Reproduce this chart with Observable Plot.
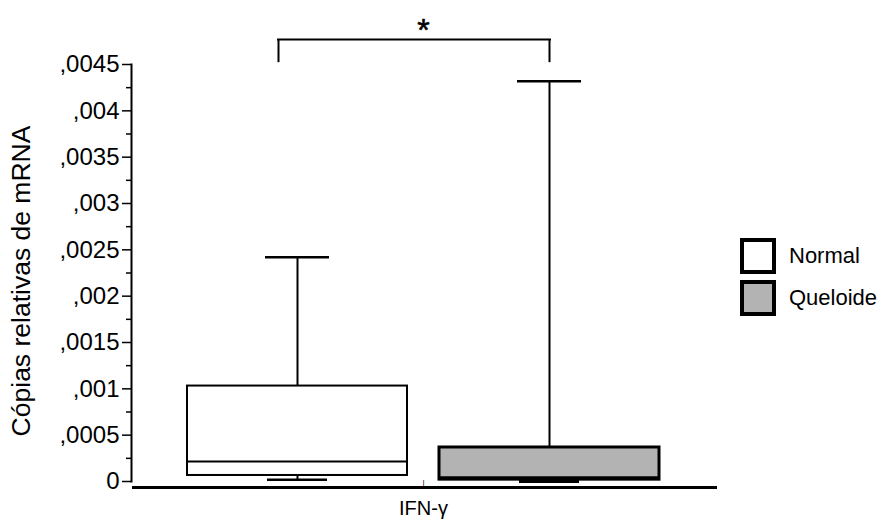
<!DOCTYPE html>
<html>
<head>
<meta charset="utf-8">
<script src="https://cdn.jsdelivr.net/npm/d3@7"></script>
<script src="https://cdn.jsdelivr.net/npm/@observablehq/plot@0.6"></script>
<style>
  html, body { margin: 0; padding: 0; background: #fff; }
  #wrap { position: relative; width: 887px; height: 524px; font-family: "Liberation Sans", Arial, sans-serif; color: #000; }
  #legend { position: absolute; left: 740px; top: 235px; }
  .item { display: flex; align-items: center; height: 42px; }
  .sw { width: 28px; height: 28px; border: 4px solid #000; margin-right: 13px; }
  .lbl { font-size: 22px; }
</style>
</head>
<body>
<div id="wrap"></div>
<script>
// ---- data ----
const groups = ["Normal", "Queloide"];
const q1 = [0.000065, 0.00002];
const median = [0.000215, 0.00004];
const q3 = [0.00103, 0.000367];
const whiskerLow = [0.00002, 0.000004];
const whiskerHigh = [0.00242, 0.00432];
const fills = ["#ffffff", "#b3b3b3"];
const boxStroke = [2, 3];
const yTicks = [0, 0.0005, 0.001, 0.0015, 0.002, 0.0025, 0.003, 0.0035, 0.004, 0.0045];
const yTickLabels = ["0", ",0005", ",001", ",0015", ",002", ",0025", ",003", ",0035", ",004", ",0045"];
const yMinorTicks = [0.00025, 0.00075, 0.00125, 0.00175, 0.00225, 0.00275, 0.00325, 0.00375, 0.00425];
const gene = "IFN-γ";
const yLabel = "Cópias relativas de mRNA";
const significance = "*";
const bracketBottom = 0.00452;
const bracketTop = 0.00477;

const rows = groups.map((g, i) => ({
  group: g, q1: q1[i], median: median[i], q3: q3[i],
  lo: whiskerLow[i], hi: whiskerHigh[i], fill: fills[i], sw: boxStroke[i]
}));
const labelOf = new Map(yTicks.map((t, i) => [t, yTickLabels[i]]));
const font = "Liberation Sans, Arial, sans-serif";

const chart = Plot.plot({
  width: 887,
  height: 524,
  marginLeft: 131,
  marginRight: 172,
  marginTop: 64,
  marginBottom: 43,
  style: { fontFamily: font, color: "#000", background: "#fff", overflow: "visible" },
  x: { domain: groups, paddingInner: 0.127, paddingOuter: 0.22, axis: null },
  y: { domain: [0, 0.0045], axis: null },
  marks: [
    // y axis line
    Plot.frame({ anchor: "left", stroke: "#000", strokeWidth: 2 }),
    // x axis line
    Plot.frame({ anchor: "bottom", stroke: "#000", strokeWidth: 3, dy: 6, insetLeft: 2 }),
    // small category tick on the x axis
    Plot.text([gene], { frameAnchor: "bottom", dy: 3, text: () => "|", fontSize: 8, fill: "#000" }),
    Plot.axisY({ ticks: yTicks, tickFormat: d => labelOf.get(d), tickSize: 9, tickPadding: 3,
      fontSize: 24, strokeWidth: 1.5, label: null }),
    Plot.axisY({ ticks: yMinorTicks, tickFormat: () => "", tickSize: 5, strokeWidth: 1.5, label: null }),
    // y label
    Plot.text([yLabel], { frameAnchor: "left", dx: -110, dy: 8, rotate: -90, text: d => d,
      fontSize: 26.5, fill: "#000", textAnchor: "middle" }),
    // gene label
    Plot.text([gene], { frameAnchor: "bottom", dy: 33, text: d => d, fontSize: 20, fill: "#000" }),
    // whiskers
    Plot.ruleX(rows, { x: "group", y1: "q3", y2: "hi", stroke: "#000", strokeWidth: 2 }),
    Plot.ruleX(rows, { x: "group", y1: "q1", y2: "lo", stroke: "#000", strokeWidth: 2 }),
    Plot.tickY(rows, { x: "group", y: "hi", stroke: "#000", strokeWidth: 2.5, insetLeft: 78, insetRight: 78 }),
    Plot.tickY(rows, { x: "group", y: "lo", stroke: "#000", strokeWidth: d => d.sw + 0.5, insetLeft: 80, insetRight: 80 }),
    // boxes
    Plot.barY(rows, { x: "group", y1: "q1", y2: "q3", fill: "fill", stroke: "#000", strokeWidth: "sw" }),
    Plot.tickY(rows, { x: "group", y: "median", stroke: "#000", strokeWidth: "sw" }),
    // significance bracket
    Plot.ruleY([bracketTop], { x1: () => groups[0], x2: () => groups[1], y: d => d,
      insetLeft: 90, insetRight: 108, stroke: "#000", strokeWidth: 2 }),
    Plot.ruleX([groups[0]], { x: d => d, y1: bracketBottom, y2: bracketTop, dx: -19, stroke: "#000", strokeWidth: 2 }),
    Plot.ruleX([groups[1]], { x: d => d, y1: bracketBottom, y2: bracketTop, stroke: "#000", strokeWidth: 2 }),
    Plot.text([significance], { frameAnchor: "top", dy: -46, text: d => d, fontSize: 32, fill: "#000",
      stroke: "#000", strokeWidth: 0.6 })
  ]
});
chart.querySelectorAll("rect").forEach(r => r.setAttribute("fill-opacity", null));

const wrap = document.getElementById("wrap");
wrap.appendChild(chart);
const legend = document.createElement("div");
legend.id = "legend";
groups.forEach((g, i) => {
  const item = document.createElement("div");
  item.className = "item";
  const sw = document.createElement("div");
  sw.className = "sw";
  sw.style.background = fills[i];
  const lbl = document.createElement("span");
  lbl.className = "lbl";
  lbl.textContent = g;
  item.appendChild(sw); item.appendChild(lbl);
  legend.appendChild(item);
});
wrap.appendChild(legend);
</script>
</body>
</html>
